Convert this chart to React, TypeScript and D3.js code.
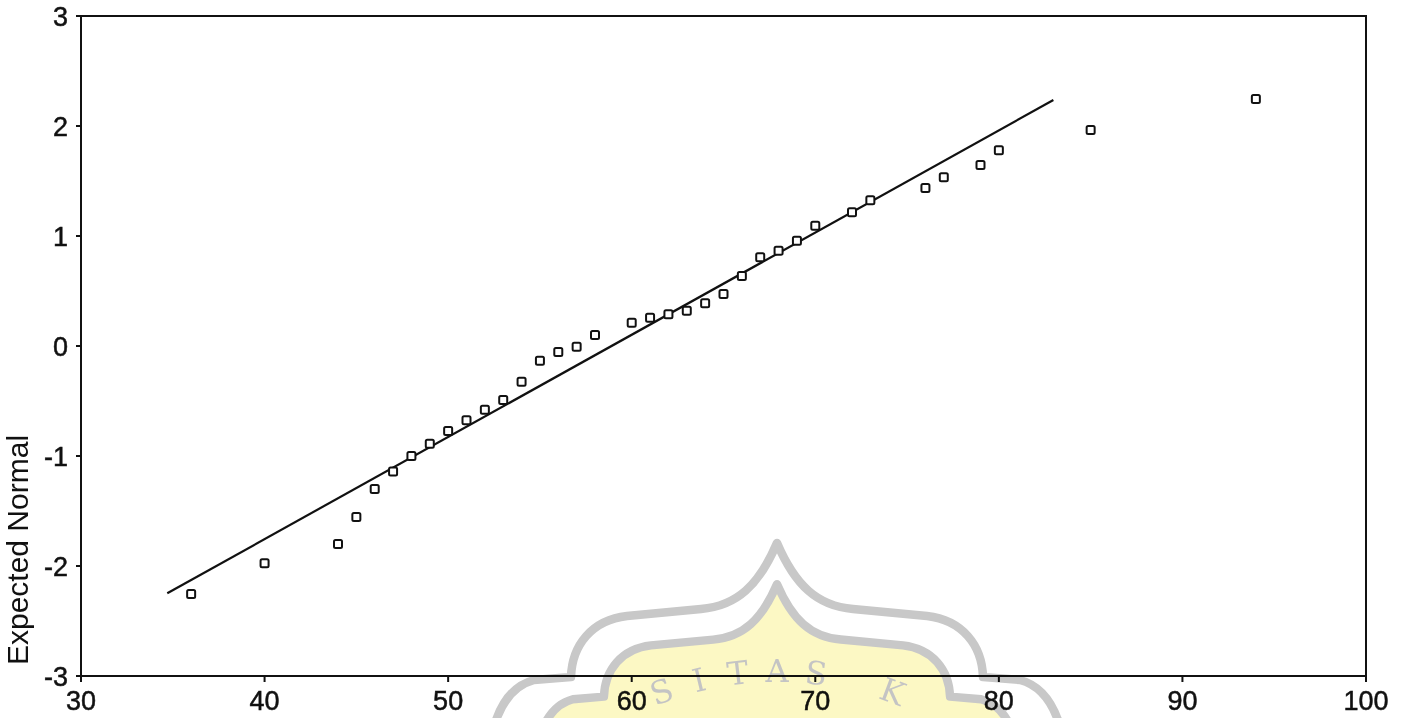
import React from 'react';
import * as d3 from 'd3';

// ---- data ----
const xValues = [36, 40, 44, 45, 46, 47, 48, 49, 50, 51, 52, 53, 54, 55, 56, 57, 58, 60, 61, 62, 63, 64, 65, 66, 67, 68, 69, 70, 72, 73, 76, 77, 79, 80, 85, 94];
const expectedNormal = [-2.255, -1.975, -1.8, -1.555, -1.3, -1.14, -1.0, -0.888, -0.773, -0.675, -0.579, -0.491, -0.325, -0.134, -0.055, -0.006, 0.1, 0.212, 0.257, 0.288, 0.321, 0.388, 0.473, 0.636, 0.806, 0.866, 0.957, 1.094, 1.215, 1.325, 1.436, 1.534, 1.645, 1.779, 1.964, 2.245];
const lineX = [34.7, 82.97];
const lineY = [-2.248, 2.236];
const xTicks = [30, 40, 50, 60, 70, 80, 90, 100];
const yTicks = [-3, -2, -1, 0, 1, 2, 3];
const yTitle = 'Expected Normal';
const watermarkText = 'SITAS K';

const W = 1401;
const H = 718;
const FONT = '"Liberation Sans", Arial, sans-serif';

function domePath(cx: number): string {
  const R = (dx: number) => cx + dx;
  const L = (dx: number) => cx - dx;
  const right = `C ${R(18)},585 ${R(40)},606 ${R(76)},609 L ${R(150)},616 C ${R(185)},620 ${R(205)},645 ${R(206)},677 L ${R(243)},680 C ${R(262)},685 ${R(276)},700 ${R(284)},730`;
  const left = `M ${L(284)},730 C ${L(276)},700 ${L(262)},685 ${L(243)},680 L ${L(206)},677 C ${L(205)},645 ${L(185)},620 ${L(150)},616 L ${L(76)},609 C ${L(40)},606 ${L(18)},585 ${cx},543 `;
  return left + right;
}

export default function App() {
  const x = d3.scaleLinear().domain([30, 100]).range([81, 1366]);
  const y = d3.scaleLinear().domain([-3, 3]).range([676, 16]);
  const [x0, x1] = x.range();
  const [yb, yt] = y.range();

  const fitLine = d3.line<number>()
    .x((_, i) => x(lineX[i]))
    .y((_, i) => y(lineY[i]))(lineX) || '';

  const cx = 777;
  const dome = domePath(cx);
  const arcCy = 1002;
  const arcR = 320;
  const dTheta = 38 / arcR;
  const centerIndex = 3; // letter at the top of the arc

  return (
    <svg width={W} height={H} style={{ position: 'absolute', left: 0, top: 0, background: '#fff' }}>
      <rect x={0} y={0} width={W} height={H} fill="#fff" />

      {/* frame */}
      <rect x={x0} y={yt} width={x1 - x0} height={yb - yt} fill="none" stroke="#111" strokeWidth={2} />

      {/* x ticks */}
      {xTicks.map(t => (
        <g key={'xt' + t}>
          <line x1={x(t)} x2={x(t)} y1={yb} y2={yb + 6} stroke="#111" strokeWidth={2} />
          <text x={x(t)} y={yb + 34} textAnchor="middle" fontFamily={FONT} fontSize={27} fill="#111" stroke="#111" strokeWidth={0.5}>{t}</text>
        </g>
      ))}

      {/* y ticks */}
      {yTicks.map(t => (
        <g key={'yt' + t}>
          <line x1={x0 - 5} x2={x0} y1={y(t)} y2={y(t)} stroke="#111" strokeWidth={2} />
          <text x={x0 - 13} y={y(t) + 10} textAnchor="end" fontFamily={FONT} fontSize={27} fill="#111" stroke="#111" strokeWidth={0.5}>{t}</text>
        </g>
      ))}

      {/* y title */}
      <text transform={`translate(28,550) rotate(-90)`} textAnchor="middle" fontFamily={FONT} fontSize={30} fill="#111">{yTitle}</text>

      {/* fitted line */}
      <path d={fitLine} fill="none" stroke="#111" strokeWidth={2.2} />

      {/* points */}
      {xValues.map((v, i) => (
        <rect key={'p' + i} x={x(v) - 4} y={y(expectedNormal[i]) - 4} width={8} height={8} rx={1.5}
          fill="#fff" stroke="#111" strokeWidth={2} />
      ))}

      {/* watermark */}
      <g style={{ mixBlendMode: 'multiply' }}>
        <g transform={`translate(${cx},800) scale(0.84) translate(${-cx},-800)`}>
          <path d={dome + ' Z'} fill="#fcf8c4" stroke="#c8c8c8" strokeWidth={10} strokeLinejoin="round" />
        </g>
        <path d={dome} fill="none" stroke="#c8c8c8" strokeWidth={8.5} strokeLinejoin="round" />
        {watermarkText.split('').map((ch, i) => {
          const th = (i - centerIndex) * dTheta;
          const px = cx + arcR * Math.sin(th);
          const py = arcCy - arcR * Math.cos(th);
          return (
            <text key={'w' + i} transform={`translate(${px},${py}) rotate(${(th * 180) / Math.PI})`}
              textAnchor="middle" fontFamily='"DejaVu Serif", "Liberation Serif", serif' fontSize={32} fill="#c4c4c4">{ch}</text>
          );
        })}
      </g>
    </svg>
  );
}
